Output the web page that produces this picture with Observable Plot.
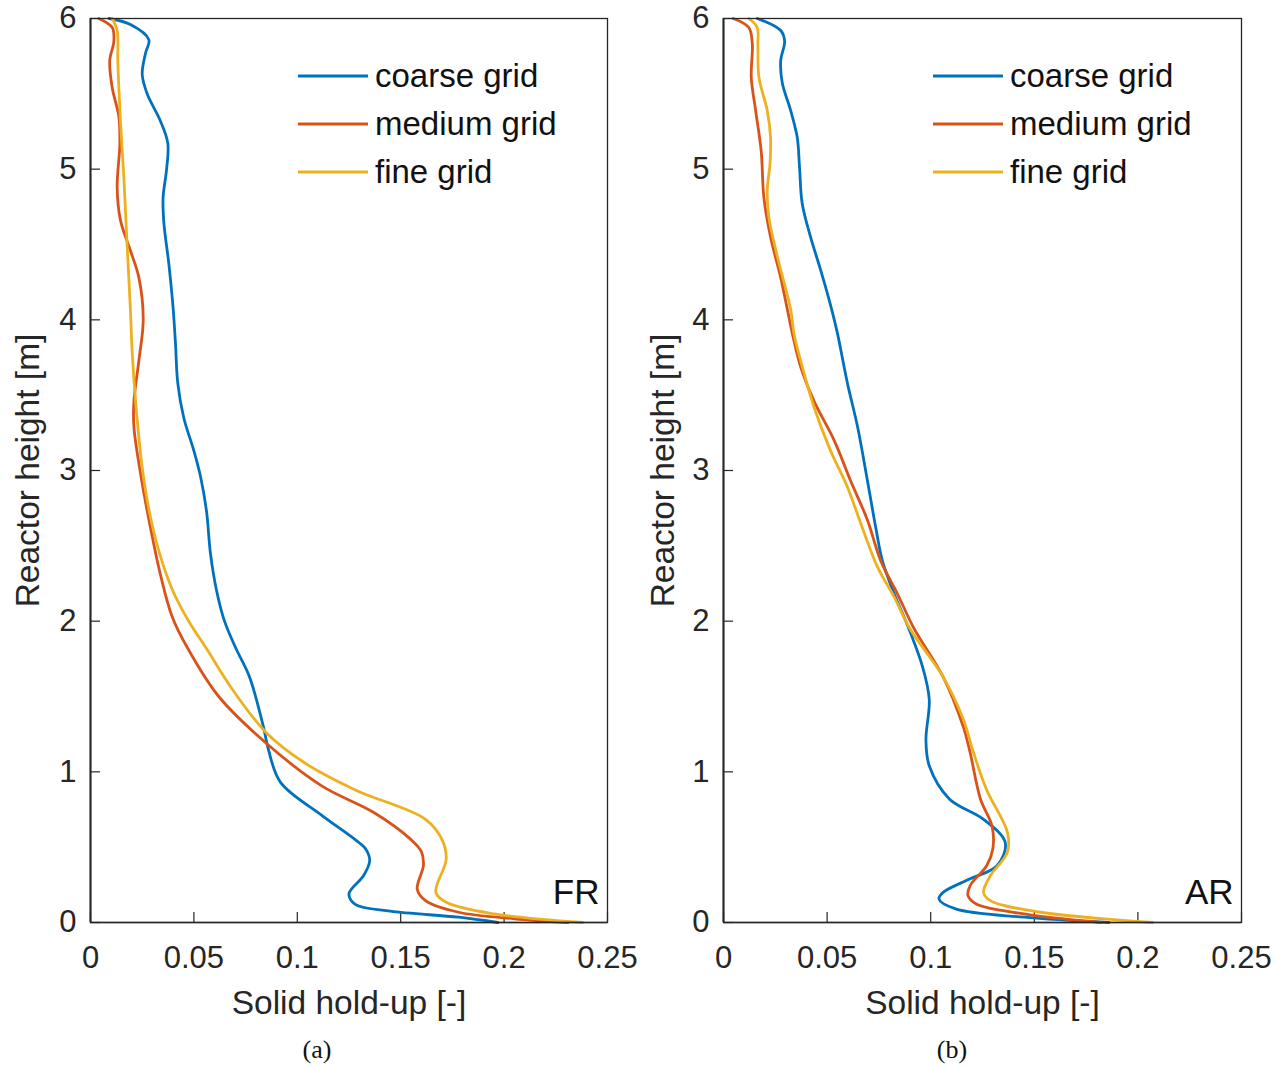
<!DOCTYPE html>
<html>
<head>
<meta charset="utf-8">
<script src="https://cdn.jsdelivr.net/npm/d3@7"></script>
<script src="https://cdn.jsdelivr.net/npm/@observablehq/plot@0.6"></script>
<style>
  body { margin: 0; background: white; }
  #wrap { position: relative; width: 1286px; height: 1068px; background: white; overflow: hidden; font-family: "Liberation Sans", Arial, sans-serif; }
  .panel { position: absolute; top: 0; }
  .cap { position: absolute; top: 1035px; font-family: "Liberation Serif", "DejaVu Serif", serif; font-size: 26px; color: #111; transform: translateX(-50%); }
  .legend { position: absolute; font-size: 33px; color: #111; }
  .legend .row { display: flex; align-items: center; height: 48px; }
  .legend svg { margin-right: 7px; }
</style>
</head>
<body>
<div id="wrap"></div>
<script>
// ---- categories / ticks ----
const seriesNames = ["coarse grid", "medium grid", "fine grid"];
const seriesColors = ["#0072BD", "#D95319", "#EDB120"];
const xTicks = [0, 0.05, 0.1, 0.15, 0.2, 0.25];
const xTickLabels = ["0", "0.05", "0.1", "0.15", "0.2", "0.25"];
const yTicks = [0, 1, 2, 3, 4, 5, 6];
const yTickLabels = ["0", "1", "2", "3", "4", "5", "6"];
const xLabel = "Solid hold-up [-]";
const yLabel = "Reactor height [m]";
const panelTags = ["FR", "AR"];
const captions = ["(a)", "(b)"];

// ---- FR (panel a) ----
const frCoarseX = [0.0089, 0.0193, 0.0282, 0.0266, 0.025, 0.0274, 0.0338, 0.0374, 0.0368, 0.0351, 0.0355, 0.0379, 0.040, 0.0411, 0.0422, 0.0451, 0.050, 0.0532, 0.0561, 0.058, 0.061, 0.0648, 0.0703, 0.0769, 0.0836, 0.086, 0.0919, 0.112, 0.128, 0.133, 0.135, 0.132, 0.125, 0.128, 0.145, 0.178, 0.197];
const frCoarseY = [6.00, 5.96, 5.86, 5.77, 5.63, 5.50, 5.32, 5.17, 5.00, 4.81, 4.64, 4.37, 4.07, 3.84, 3.58, 3.35, 3.13, 2.96, 2.73, 2.45, 2.20, 2.00, 1.82, 1.63, 1.30, 1.15, 0.93, 0.71, 0.55, 0.49, 0.41, 0.31, 0.19, 0.12, 0.075, 0.035, 0.0];
const frMediumX = [0.004, 0.0105, 0.0113, 0.0093, 0.0105, 0.0137, 0.0142, 0.0129, 0.0145, 0.0193, 0.0234, 0.0255, 0.0234, 0.021, 0.021, 0.0242, 0.029, 0.0338, 0.0395, 0.047, 0.062, 0.085, 0.112, 0.137, 0.155, 0.160, 0.161, 0.158, 0.162, 0.178, 0.205, 0.231];
const frMediumY = [6.00, 5.94, 5.85, 5.72, 5.54, 5.35, 5.17, 4.88, 4.66, 4.46, 4.28, 4.00, 3.73, 3.46, 3.29, 2.98, 2.62, 2.31, 2.03, 1.82, 1.50, 1.19, 0.905, 0.73, 0.55, 0.47, 0.38, 0.22, 0.145, 0.068, 0.025, 0.0];
const frFineX = [0.0105, 0.0129, 0.0132, 0.0145, 0.0161, 0.0177, 0.0193, 0.0201, 0.0218, 0.025, 0.029, 0.0345, 0.0405, 0.0475, 0.056, 0.069, 0.085, 0.1035, 0.128, 0.162, 0.170, 0.172, 0.167, 0.172, 0.195, 0.238];
const frFineY = [6.00, 5.92, 5.72, 5.32, 4.95, 4.50, 4.07, 3.80, 3.46, 3.02, 2.69, 2.40, 2.18, 2.00, 1.82, 1.54, 1.26, 1.06, 0.88, 0.685, 0.55, 0.42, 0.20, 0.134, 0.057, 0.0];

// ---- AR (panel b) ----
const arCoarseX = [0.0163, 0.0276, 0.0295, 0.0276, 0.0284, 0.0324, 0.0356, 0.0367, 0.038, 0.042, 0.0469, 0.0522, 0.055, 0.0598, 0.0647, 0.0695, 0.0735, 0.0767, 0.0824, 0.088, 0.096, 0.0993, 0.0977, 0.0993, 0.109, 0.1255, 0.136, 0.132, 0.119, 0.106, 0.104, 0.112, 0.145, 0.186];
const arCoarseY = [6.00, 5.92, 5.85, 5.72, 5.57, 5.39, 5.21, 5.01, 4.77, 4.55, 4.33, 4.07, 3.91, 3.58, 3.29, 2.93, 2.62, 2.40, 2.18, 2.00, 1.70, 1.48, 1.21, 1.04, 0.82, 0.685, 0.53, 0.377, 0.29, 0.20, 0.156, 0.09, 0.035, 0.0];
const arMediumX = [0.0047, 0.0122, 0.0139, 0.0134, 0.0155, 0.0182, 0.0195, 0.0227, 0.0276, 0.0308, 0.0332, 0.0372, 0.0437, 0.0534, 0.0614, 0.0695, 0.0759, 0.084, 0.092, 0.106, 0.1157, 0.119, 0.124, 0.1296, 0.130, 0.127, 0.119, 0.118, 0.122, 0.145, 0.182];
const arMediumY = [6.00, 5.94, 5.83, 5.61, 5.39, 5.12, 4.81, 4.55, 4.28, 4.07, 3.91, 3.69, 3.46, 3.20, 2.93, 2.67, 2.40, 2.18, 1.95, 1.63, 1.30, 1.13, 0.82, 0.64, 0.49, 0.377, 0.244, 0.178, 0.123, 0.057, 0.0];
const arFineX = [0.0122, 0.0163, 0.0166, 0.0171, 0.0211, 0.0227, 0.0224, 0.0211, 0.0219, 0.026, 0.0324, 0.034, 0.038, 0.0437, 0.0517, 0.0598, 0.067, 0.0743, 0.0824, 0.090, 0.106, 0.1157, 0.1206, 0.127, 0.137, 0.137, 0.1288, 0.1255, 0.1288, 0.153, 0.207];
const arFineY = [6.00, 5.94, 5.83, 5.61, 5.39, 5.21, 5.03, 4.86, 4.68, 4.42, 4.07, 3.91, 3.69, 3.42, 3.13, 2.89, 2.62, 2.36, 2.16, 1.95, 1.63, 1.35, 1.13, 0.88, 0.60, 0.465, 0.31, 0.20, 0.145, 0.068, 0.0];

function rows(name, xs, ys) { return xs.map((x, i) => ({series: name, x, y: ys[i]})); }
const panels = [
  { tag: panelTags[0], cap: captions[0], left: 0, ml: 90, mr: 36, ylabDx: -62, capX: 317,
    data: [...rows(seriesNames[0], frCoarseX, frCoarseY), ...rows(seriesNames[1], frMediumX, frMediumY), ...rows(seriesNames[2], frFineX, frFineY)],
    legendLeft: 298 },
  { tag: panelTags[1], cap: captions[1], left: 643, ml: 80, mr: 45, ylabDx: -60, capX: 952,
    data: [...rows(seriesNames[0], arCoarseX, arCoarseY), ...rows(seriesNames[1], arMediumX, arMediumY), ...rows(seriesNames[2], arFineX, arFineY)],
    legendLeft: 933 - 643 }
];

const wrap = document.getElementById("wrap");
const W = 643, H = 1030, MT = 18, MB = 108;
const axisColor = "#262626";

panels.forEach(p => {
  const pw = W - p.ml - p.mr, ph = H - MT - MB;
  const chart = Plot.plot({
    width: W, height: H,
    marginLeft: p.ml, marginRight: p.mr, marginTop: MT, marginBottom: MB,
    style: {fontFamily: "'Liberation Sans', Arial, sans-serif", color: axisColor, background: "white", overflow: "visible"},
    x: {domain: [0, 0.25]},
    y: {domain: [0, 6]},
    color: {domain: seriesNames, range: seriesColors},
    marks: [
      Plot.axisX(xTicks, {tickSize: 0, tickPadding: 23, fontSize: 31, tickFormat: d => xTickLabels[xTicks.indexOf(d)], label: null}),
      Plot.axisY(yTicks, {tickSize: 0, tickPadding: 14, fontSize: 31, tickFormat: d => yTickLabels[yTicks.indexOf(d)], label: null}),
      Plot.tickX(xTicks, {x: d => d, insetTop: ph - 10, stroke: axisColor, strokeWidth: 1.2}),
      Plot.tickY(yTicks, {y: d => d, insetRight: pw - 10, stroke: axisColor, strokeWidth: 1.2}),
      Plot.line(p.data, {x: "x", y: "y", z: "series", stroke: "series", strokeWidth: 2.8, curve: "catmull-rom"}),
      Plot.frame({stroke: axisColor, strokeWidth: 1.3}),
      Plot.ruleX([0], {stroke: axisColor, strokeWidth: 2}),
      Plot.ruleY([0], {stroke: axisColor, strokeWidth: 1.6}),
      Plot.text([xLabel], {text: d => d, frameAnchor: "bottom", lineAnchor: "middle", dy: 81, fontSize: 33.5, fill: axisColor}),
      Plot.text([yLabel], {text: d => d, frameAnchor: "left", textAnchor: "middle", lineAnchor: "middle", dx: p.ylabDx, rotate: -90, fontSize: 33.5, fill: axisColor}),
      Plot.text([p.tag], {text: d => d, frameAnchor: "bottom-right", textAnchor: "end", lineAnchor: "middle", dx: -8, dy: -30, fontSize: 35, fill: "#111"})
    ]
  });
  chart.classList.add("panel");
  chart.style.left = p.left + "px";
  wrap.appendChild(chart);

  const leg = document.createElement("div");
  leg.className = "legend";
  leg.style.left = (p.left + p.legendLeft) + "px";
  leg.style.top = "52px";
  seriesNames.forEach((s, i) => {
    const r = document.createElement("div");
    r.className = "row";
    r.innerHTML = `<svg width="70" height="6"><line x1="0" x2="70" y1="3" y2="3" stroke="${seriesColors[i]}" stroke-width="3"/></svg><span>${s}</span>`;
    leg.appendChild(r);
  });
  wrap.appendChild(leg);

  const cap = document.createElement("div");
  cap.className = "cap";
  cap.textContent = p.cap;
  cap.style.left = p.capX + "px";
  wrap.appendChild(cap);
});
</script>
</body>
</html>
